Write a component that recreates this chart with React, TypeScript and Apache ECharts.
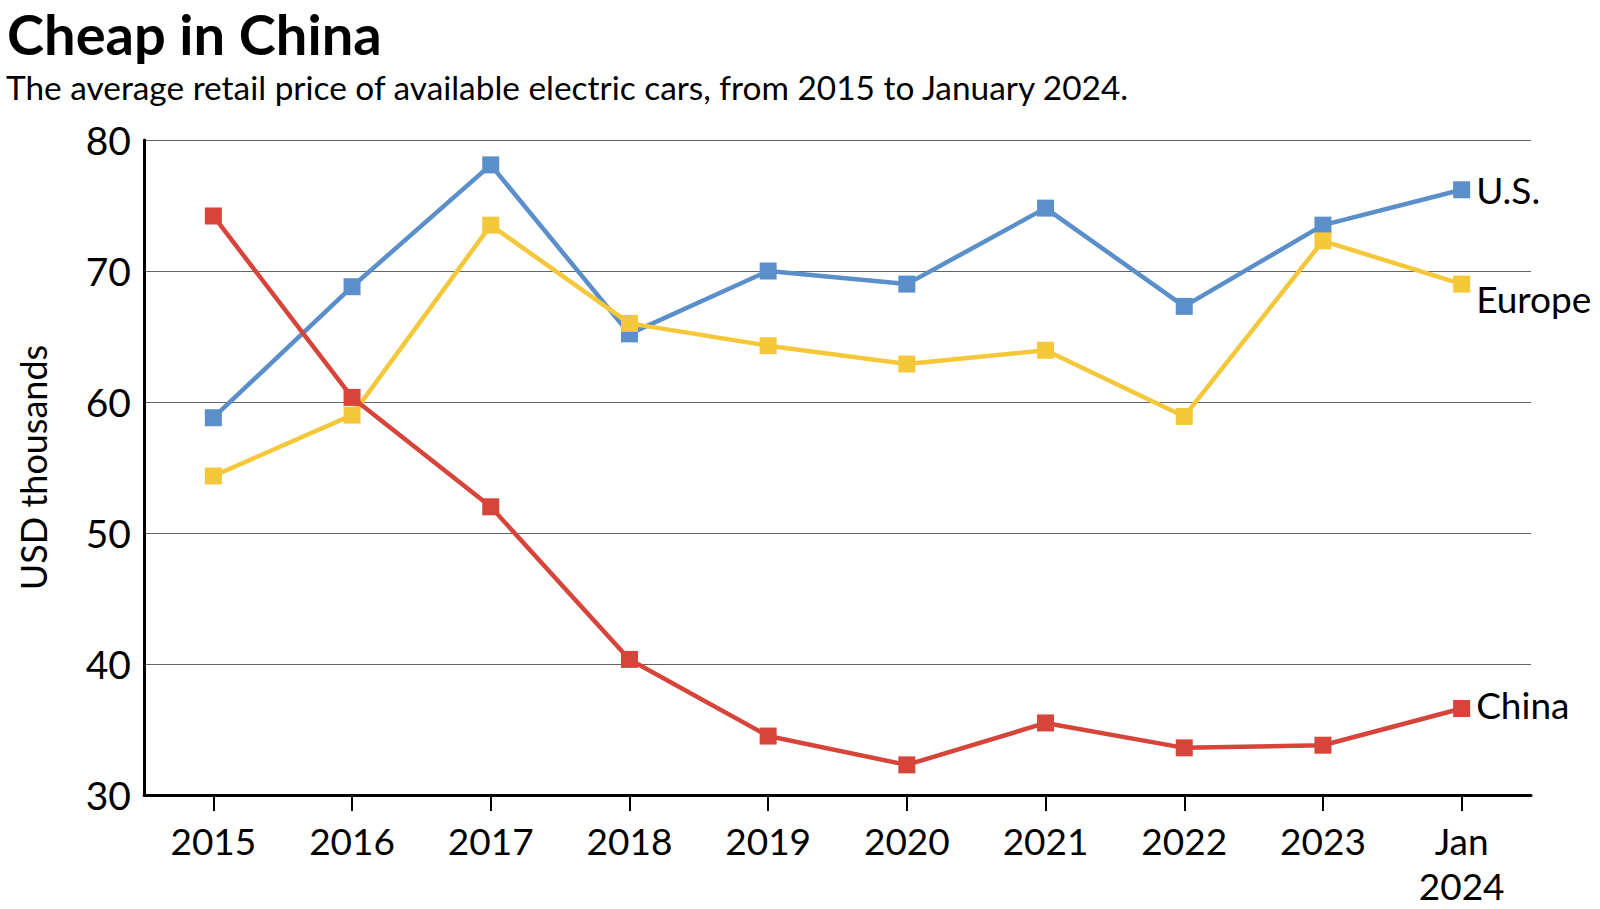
import React, { useEffect, useRef } from "react";
import * as echarts from "echarts";

const categories = ["2015", "2016", "2017", "2018", "2019", "2020", "2021", "2022", "2023", "Jan\n2024"];
const usValues = [58.8, 68.8, 78.1, 65.2, 70.0, 69.0, 74.8, 67.3, 73.5, 76.2];
const europeValues = [54.35, 59.0, 73.5, 66.0, 64.3, 62.9, 63.95, 58.9, 72.3, 69.0];
const chinaValues = [74.2, 60.35, 52.0, 40.35, 34.5, 32.3, 35.5, 33.6, 33.8, 36.6];
const seriesNames = ["U.S.", "Europe", "China"];
const yTicks = { min: 30, max: 80, interval: 10 };

const TITLE = "Cheap in China";
const SUBTITLE = "The average retail price of available electric cars, from 2015 to January 2024.";
const Y_NAME = "USD thousands";

const FONT = "Lato, 'Noto Sans', sans-serif";
const COLORS = ["#5A8FCA", "#F5C73A", "#D6443A"];
const LABEL_OFFSETS: [number, number][] = [[0, 0], [0, 14], [0, -4]];

function makeSeries(name: string, values: number[], color: string, offset: [number, number], z: number) {
  return {
    name,
    type: "line",
    z,
    symbol: "rect",
    symbolSize: 17,
    lineStyle: { color, width: 4.5 },
    itemStyle: { color },
    data: values.map((v, i) =>
      i === values.length - 1
        ? {
            value: v,
            label: {
              show: true,
              position: "right",
              distance: 6,
              offset,
              formatter: name,
              color: "#000",
              fontFamily: FONT,
              fontSize: 37,
            },
          }
        : v
    ),
  };
}

export default function App() {
  const ref = useRef<HTMLDivElement>(null);
  useEffect(() => {
    if (!ref.current) return;
    const chart = echarts.init(ref.current, null, { renderer: "svg" });
    chart.setOption({
      animation: false,
      backgroundColor: "#fff",
      textStyle: { fontFamily: FONT },
      grid: { left: 144, right: 69, top: 140, bottom: 114, containLabel: false },
      graphic: [
        {
          type: "text",
          left: 7,
          top: 5,
          style: { text: TITLE, fontFamily: FONT, fontSize: 56, fontWeight: "bold", fill: "#000" },
        },
        {
          type: "text",
          left: 6,
          top: 70,
          style: { text: SUBTITLE, fontFamily: FONT, fontSize: 33.4, fill: "#000" },
        },
      ],
      xAxis: {
        type: "category",
        data: categories,
        boundaryGap: true,
        axisLine: { show: true, lineStyle: { color: "#000", width: 3 } },
        axisTick: { show: true, alignWithLabel: true, length: 16, lineStyle: { color: "#000", width: 2 } },
        axisLabel: { color: "#000", fontFamily: FONT, fontSize: 37, margin: 23, lineHeight: 45, interval: 0 },
        splitLine: { show: false },
      },
      yAxis: {
        type: "value",
        min: yTicks.min,
        max: yTicks.max,
        interval: yTicks.interval,
        name: Y_NAME,
        nameLocation: "middle",
        nameGap: 93,
        nameRotate: 90,
        nameTextStyle: { color: "#000", fontFamily: FONT, fontSize: 36 },
        axisLine: { show: true, lineStyle: { color: "#000", width: 3 } },
        axisTick: { show: false },
        axisLabel: { color: "#000", fontFamily: FONT, fontSize: 39, margin: 13 },
        splitLine: { show: true, lineStyle: { color: "#666", width: 1 } },
      },
      series: [
        makeSeries(seriesNames[0], usValues, COLORS[0], LABEL_OFFSETS[0], 2),
        makeSeries(seriesNames[1], europeValues, COLORS[1], LABEL_OFFSETS[1], 3),
        makeSeries(seriesNames[2], chinaValues, COLORS[2], LABEL_OFFSETS[2], 4),
      ],
    });
    return () => chart.dispose();
  }, []);
  return <div ref={ref} style={{ position: "fixed", left: 0, top: 0, width: 1600, height: 909 }} />;
}
